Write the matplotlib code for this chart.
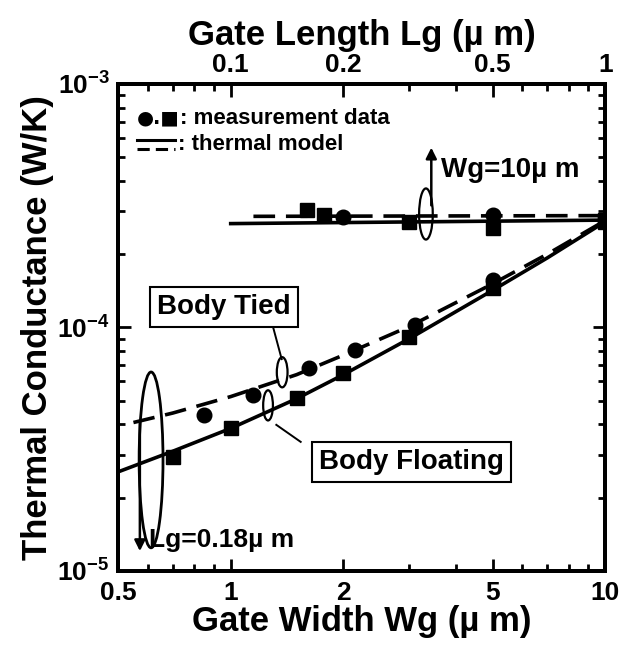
import matplotlib
matplotlib.use("Agg")
import matplotlib.pyplot as plt
from matplotlib.patches import Ellipse
from matplotlib.ticker import FixedLocator, NullFormatter, LogLocator

plt.rcParams['font.family'] = ['Liberation Sans', 'DejaVu Sans']
plt.rcParams['font.weight'] = 'bold'
plt.rcParams['mathtext.fontset'] = 'custom'
plt.rcParams['mathtext.rm'] = 'Liberation Sans:bold'
plt.rcParams['mathtext.it'] = 'Liberation Sans:bold'
plt.rcParams['mathtext.bf'] = 'Liberation Sans:bold'

# ---- Data: lower panel (vs Gate Width Wg, Lg = 0.18 um) ----
float_wg = [0.70, 1.0, 1.5, 2.0, 3.0, 5.0, 10.0]
float_g = [2.94e-5, 3.86e-5, 5.13e-5, 6.5e-5, 9.1e-5, 1.45e-4, 2.71e-4]
tied_wg = [0.85, 1.15, 1.62, 2.15, 3.1, 5.0]
tied_g = [4.37e-5, 5.28e-5, 6.8e-5, 8.1e-5, 1.02e-4, 1.57e-4]

float_model_wg = [0.5, 0.7, 1.0, 1.5, 2.0, 3.0, 5.0, 7.0, 10.0]
float_model_g = [2.55e-5, 3.1e-5, 3.85e-5, 5.1e-5, 6.4e-5, 9.0e-5, 1.42e-4, 1.93e-4, 2.72e-4]
tied_model_wg = [0.55, 0.7, 1.0, 1.5, 2.0, 3.0, 5.0, 7.0, 10.0]
tied_model_g = [4.07e-5, 4.45e-5, 5.2e-5, 6.4e-5, 7.7e-5, 1.01e-4, 1.51e-4, 2.0e-4, 2.75e-4]

# ---- Data: upper panel (vs Gate Length Lg, Wg = 10 um) ----
sq_lg = [0.16, 0.178, 0.30, 0.50, 1.0]
sq_g = [3.04e-4, 2.9e-4, 2.71e-4, 2.56e-4, 2.75e-4]
ci_lg = [0.20, 0.50]
ci_g = [2.85e-4, 2.9e-4]
upper_solid_lg = [0.1, 1.0]
upper_solid_g = [2.67e-4, 2.76e-4]
upper_dash_lg = [0.115, 1.0]
upper_dash_g = [2.86e-4, 2.88e-4]

xticks_bottom = [0.5, 1, 2, 5, 10]
xticklabels_bottom = ['0.5', '1', '2', '5', '10']
xticks_top = [0.1, 0.2, 0.5, 1]
xticklabels_top = ['0.1', '0.2', '0.5', '1']
yticks = [1e-5, 1e-4, 1e-3]
yticklabels = [r'$10^{-5}$', r'$10^{-4}$', r'$10^{-3}$']

fig = plt.figure(figsize=(6.24, 6.51), dpi=100)
ax = fig.add_axes([0.189, 0.123, 0.781, 0.748])
ax.set_xscale('log')
ax.set_yscale('log')
ax.set_xlim(0.5, 10)
ax.set_ylim(1e-5, 1e-3)

lw = 2.6
ms = 10.5
ax.plot(float_model_wg, float_model_g, color='black', lw=lw, solid_capstyle='butt')
ax.plot(tied_model_wg, tied_model_g, color='black', lw=lw, dashes=(6, 3))
ax.plot(float_wg, float_g, 's', color='black', ms=ms, ls='none')
ax.plot(tied_wg, tied_g, 'o', color='black', ms=ms, ls='none')

ax2 = ax.twiny()
ax2.set_xscale('log')
ax2.set_xlim(0.05, 1)
ax2.plot(upper_solid_lg, upper_solid_g, color='black', lw=lw)
ax2.plot(upper_dash_lg, upper_dash_g, color='black', lw=lw, dashes=(6, 3))
ax2.plot(sq_lg, sq_g, 's', color='black', ms=ms, ls='none')
ax2.plot(ci_lg, ci_g, 'o', color='black', ms=ms, ls='none')

# ticks
tick_fs = 19
ax.xaxis.set_major_locator(FixedLocator(xticks_bottom))
ax.set_xticklabels(xticklabels_bottom, fontsize=tick_fs, fontweight='bold')
ax.xaxis.set_minor_locator(LogLocator(base=10, subs=range(2, 10)))
ax.xaxis.set_minor_formatter(NullFormatter())
ax.yaxis.set_major_locator(FixedLocator(yticks))
ax.set_yticklabels(yticklabels, fontsize=tick_fs)
ax.yaxis.set_minor_locator(LogLocator(base=10, subs=range(2, 10)))
ax.yaxis.set_minor_formatter(NullFormatter())
ax.tick_params(which='both', direction='in', top=False, right=True, width=2)
ax.tick_params(which='major', length=9)
ax.tick_params(which='minor', length=5)
ax.tick_params(axis='x', pad=7)
ax.tick_params(axis='y', pad=6)

ax2.xaxis.set_major_locator(FixedLocator(xticks_top))
ax2.set_xticklabels(xticklabels_top, fontsize=tick_fs, fontweight='bold')
ax2.xaxis.set_minor_locator(LogLocator(base=10, subs=range(2, 10)))
ax2.xaxis.set_minor_formatter(NullFormatter())
ax2.tick_params(which='both', direction='in', width=2)
ax2.tick_params(which='major', length=9)
ax2.tick_params(which='minor', length=5)
ax2.tick_params(axis='x', pad=5)

for a in (ax, ax2):
    for s in a.spines.values():
        s.set_linewidth(2.8)

lab_fs = 25
ax.set_xlabel('Gate Width Wg (µ m)', fontsize=lab_fs, fontweight='bold', labelpad=0)
ax2.set_xlabel('Gate Length Lg (µ m)', fontsize=lab_fs, fontweight='bold', labelpad=6)
ax.set_ylabel('Thermal Conductance (W/K)', fontsize=lab_fs, fontweight='bold', labelpad=2)

T = ax.transAxes
# legend
leg_fs = 16
ax.text(0.039, 0.930, '●.■', transform=T, fontsize=14, va='center', ha='left',
        family=['DejaVu Sans'])
ax.text(0.128, 0.930, ': measurement data', transform=T, fontsize=leg_fs, va='center', ha='left')
ax.plot([0.039, 0.118], [0.884, 0.884], transform=T, color='black', lw=2.2)
ax.plot([0.039, 0.118], [0.866, 0.866], transform=T, color='black', lw=2.2, dashes=(4, 2))
ax.text(0.124, 0.875, ': thermal model', transform=T, fontsize=leg_fs, va='center', ha='left')

# Wg = 10 um annotation
ax.add_patch(Ellipse((0.632, 0.733), 0.028, 0.105, transform=T, fill=False, lw=1.6, ec='black'))
ax.annotate('', xy=(0.643, 0.875), xytext=(0.643, 0.745), xycoords=T, textcoords=T,
            arrowprops=dict(arrowstyle='-|>', color='black', lw=1.8, mutation_scale=16))
ax.text(0.663, 0.823, 'Wg=10µ m', transform=T, fontsize=20, va='center', ha='left')

# Lg = 0.18 um annotation
ax.add_patch(Ellipse((0.068, 0.228), 0.049, 0.361, transform=T, fill=False, lw=2.0, ec='black'))
ax.annotate('', xy=(0.045, 0.035), xytext=(0.045, 0.31), xycoords=T, textcoords=T,
            arrowprops=dict(arrowstyle='-|>', color='black', lw=1.8, mutation_scale=16))
ax.text(0.064, 0.064, 'Lg=0.18µ m', transform=T, fontsize=19, va='center', ha='left')

# Body Tied
ax.text(0.218, 0.542, 'Body Tied', transform=T, fontsize=20, va='center', ha='center',
        bbox=dict(boxstyle='square,pad=0.25', fc='white', ec='black', lw=1.5))
ax.plot([0.318, 0.336], [0.502, 0.435], transform=T, color='black', lw=1.4)
ax.add_patch(Ellipse((0.337, 0.408), 0.022, 0.062, transform=T, fill=False, lw=1.6, ec='black'))

# Body Floating
ax.text(0.603, 0.224, 'Body Floating', transform=T, fontsize=20, va='center', ha='center',
        bbox=dict(boxstyle='square,pad=0.25', fc='white', ec='black', lw=1.5))
ax.plot([0.375, 0.325], [0.265, 0.300], transform=T, color='black', lw=1.4)
ax.add_patch(Ellipse((0.308, 0.340), 0.020, 0.062, transform=T, fill=False, lw=1.6, ec='black'))

fig.savefig('out.png', dpi=100)
